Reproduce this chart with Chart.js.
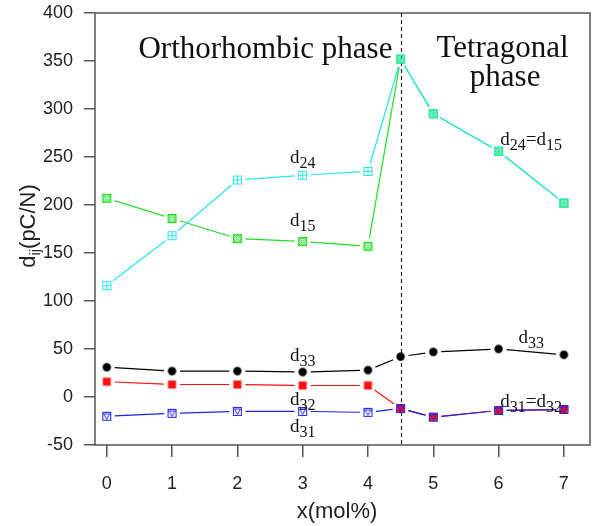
<!DOCTYPE html>
<html>
<head>
<meta charset="utf-8">
<script src="https://cdn.jsdelivr.net/npm/chart.js@4"></script>
<style>
  body { margin: 0; background: #fff; }
  #wrap { width: 596px; height: 526px; }
</style>
</head>
<body>
<div id="wrap"><canvas id="chart" width="596" height="526"></canvas></div>
<script>
// x positions (mol%)
const xValues = [0, 1, 2, 3, 4, 4.5, 5, 6, 7];
const xTickValues = [0, 1, 2, 3, 4, 5, 6, 7];

// piezoelectric coefficients, pC/N
const d15 = [207, 186, 165, 162, 157, 352, 295, 256, 202];
const d24 = [116, 168, 226, 231, 235, 352, 295, 256, 202];
const d31 = [-20, -17, -15, -15, -16, -12, -21, -14, -13];
const d32 = [16, 13, 13, 12, 12, -12, -21, -14, -13];
const d33 = [31, 27, 27, 26, 28, 42, 47, 50, 44];

const phaseBoundary = 4.5;

// text labels placed in data units (centre x, baseline y)
const labels = [
  { parts: [["d"], ["24", 1]], x: 3, y: 244 },
  { parts: [["d"], ["15", 1]], x: 3, y: 178 },
  { parts: [["d"], ["24", 1], ["=d"], ["15", 1]], x: 6.5, y: 262 },
  { parts: [["d"], ["33", 1]], x: 3, y: 37 },
  { parts: [["d"], ["32", 1]], x: 3, y: -8 },
  { parts: [["d"], ["31", 1]], x: 3, y: -36 },
  { parts: [["d"], ["33", 1]], x: 6.5, y: 56 },
  { parts: [["d"], ["31", 1], ["=d"], ["32", 1]], x: 6.5, y: -10 }
];

const phaseTitles = [
  { text: "Orthorhombic phase", x: 2.43, y: 353 },
  { text: "Tetragonal", x: 6.06, y: 354 },
  { text: "phase", x: 6.1, y: 324 }
];


function marker(kind, color) {
  const c = document.createElement("canvas");
  c.width = 11;
  c.height = 11;
  const g = c.getContext("2d");
  g.strokeStyle = color;
  g.fillStyle = color;
  g.lineWidth = 1;
  if (kind === "boxplus") {
    g.strokeRect(1.5, 1.5, 8, 8);
    g.beginPath();
    g.moveTo(5.5, 1.5); g.lineTo(5.5, 9.5);
    g.moveTo(1.5, 5.5); g.lineTo(9.5, 5.5);
    g.stroke();
  } else if (kind === "boxcross") {
    g.strokeRect(1.5, 1.5, 8, 8);
    g.beginPath();
    g.arc(5.5, 5.5, 3, 0, Math.PI * 2);
    g.moveTo(2, 2); g.lineTo(9, 9);
    g.moveTo(9, 2); g.lineTo(2, 9);
    g.stroke();
  } else if (kind === "boxtri") {
    g.strokeRect(1.5, 1.5, 8, 8);
    g.beginPath();
    g.moveTo(2.5, 3); g.lineTo(8.5, 3); g.lineTo(5.5, 8.5); g.closePath();
    g.stroke();
  } else if (kind === "square") {
    g.fillRect(1.5, 1.5, 8, 8);
  } else {
    g.beginPath();
    g.arc(5.5, 5.5, 4.2, 0, Math.PI * 2);
    g.fill();
  }
  return c;
}

function series(label, values, color, kind) {
  return {
    label: label,
    data: values.map((v, i) => ({ x: xValues[i], y: v })),
    borderColor: color,
    backgroundColor: color,
    showLine: false,
    pointStyle: marker(kind, color),
    pointRadius: 5,
    pointHoverRadius: 5
  };
}


function drawSub(ctx, parts, cx, baseline) {
  const main = "19px 'Liberation Serif'";
  const small = "16px 'Liberation Serif'";
  let total = 0;
  parts.forEach(p => {
    ctx.font = p[1] ? small : main;
    total += ctx.measureText(p[0]).width;
  });
  let x = cx - total / 2;
  ctx.textAlign = "left";
  ctx.textBaseline = "alphabetic";
  parts.forEach(p => {
    ctx.font = p[1] ? small : main;
    ctx.fillText(p[0], x, baseline + (p[1] ? 5 : 0));
    x += ctx.measureText(p[0]).width;
  });
}


// lines between markers, stopped short of each marker
// (drawn last dataset first, so the first dataset's line ends up on top)
const gapLines = {
  id: "gapLines",
  beforeDatasetsDraw(chart) {
    const ctx = chart.ctx;
    ctx.save();
    for (let i = chart.data.datasets.length - 1; i >= 0; i--) {
      const ds = chart.data.datasets[i];
      const pts = chart.getDatasetMeta(i).data;
      ctx.strokeStyle = ds.borderColor;
      ctx.lineWidth = 1.2;
      ctx.beginPath();
      for (let k = 1; k < pts.length; k++) {
        const a = pts[k - 1], b = pts[k];
        const dx = b.x - a.x, dy = b.y - a.y;
        const len = Math.hypot(dx, dy);
        const gap = 8;
        if (len <= gap * 2) continue;
        const ux = dx / len, uy = dy / len;
        ctx.moveTo(a.x + ux * gap, a.y + uy * gap);
        ctx.lineTo(b.x - ux * gap, b.y - uy * gap);
      }
      ctx.stroke();
    }
    ctx.restore();
  }
};

const decorations = {
  id: "decorations",
  beforeDatasetsDraw(chart) {
    const { ctx, chartArea: a, scales } = chart;
    ctx.save();
    // frame
    ctx.strokeStyle = "#555";
    ctx.lineWidth = 1.5;
    ctx.strokeRect(a.left, a.top, a.right - a.left, a.bottom - a.top);
    // phase boundary
    const bx = Math.round(scales.x.getPixelForValue(phaseBoundary)) + 0.5;
    ctx.strokeStyle = "#222";
    ctx.lineWidth = 1.2;
    ctx.setLineDash([4, 3]);
    ctx.beginPath();
    ctx.moveTo(bx, a.top);
    ctx.lineTo(bx, a.bottom);
    ctx.stroke();
    ctx.restore();
  },
  afterDatasetsDraw(chart) {
    const { ctx, scales } = chart;
    ctx.save();
    ctx.fillStyle = "#111";
    labels.forEach(l => {
      drawSub(ctx, l.parts, scales.x.getPixelForValue(l.x), scales.y.getPixelForValue(l.y));
    });
    ctx.font = "31px 'Liberation Serif'";
    ctx.textAlign = "center";
    ctx.textBaseline = "alphabetic";
    phaseTitles.forEach(t => {
      ctx.fillText(t.text, scales.x.getPixelForValue(t.x), scales.y.getPixelForValue(t.y));
    });

    // axis titles
    ctx.fillStyle = "#222";
    ctx.font = "22px 'Liberation Sans'";
    ctx.fillText("x(mol%)", 337, 518);

    ctx.translate(35, 226);
    ctx.rotate(-Math.PI / 2);
    const pieces = [["d", 0], ["ij", 1], ["(pC/N)", 0]];
    let w = 0;
    pieces.forEach(p => {
      ctx.font = p[1] ? "15px 'Liberation Sans'" : "22px 'Liberation Sans'";
      w += ctx.measureText(p[0]).width;
    });
    let x = -w / 2;
    ctx.textAlign = "left";
    pieces.forEach(p => {
      ctx.font = p[1] ? "15px 'Liberation Sans'" : "22px 'Liberation Sans'";
      ctx.fillText(p[0], x, p[1] ? 5 : 0);
      x += ctx.measureText(p[0]).width;
    });
    ctx.restore();
  }
};


Chart.defaults.font.family = "'Liberation Sans', Arial, sans-serif";
Chart.defaults.color = "#222";

new Chart(document.getElementById("chart").getContext("2d"), {
  type: "line",
  data: {
    datasets: [
      series("d24", d24, "#22e6ee", "boxplus"),
      series("d15", d15, "#22dd22", "boxcross"),
      series("d31", d31, "#2020ee", "boxtri"),
      series("d32", d32, "#ff1010", "square"),
      series("d33", d33, "#000000", "circle")
    ]
  },
  options: {
    responsive: false,
    animation: false,
    layout: { padding: { top: 13, right: 3, left: 0, bottom: 0 } },
    plugins: {
      legend: { display: false },
      tooltip: { enabled: false }
    },
    scales: {
      x: {
        type: "linear",
        min: -0.18,
        max: 7.4,
        afterBuildTicks: s => { s.ticks = xTickValues.map(v => ({ value: v })); },
        afterFit: s => { s.height = 81; s.paddingLeft = 0; s.paddingRight = 0; },
        ticks: { font: { size: 18 }, padding: 16 },
        grid: { drawOnChartArea: false, tickLength: 12, color: "#555", lineWidth: 1.5 },
        border: { display: false }
      },
      y: {
        min: -50,
        max: 400,
        afterFit: s => { s.width = 95; s.paddingTop = 0; s.paddingBottom = 0; },
        ticks: { stepSize: 50, font: { size: 18 }, padding: 11 },
        grid: { drawOnChartArea: false, tickLength: 11, color: "#555", lineWidth: 1.5 },
        border: { display: false }
      }
    }
  },
  plugins: [gapLines, decorations]
});
</script>
</body>
</html>
